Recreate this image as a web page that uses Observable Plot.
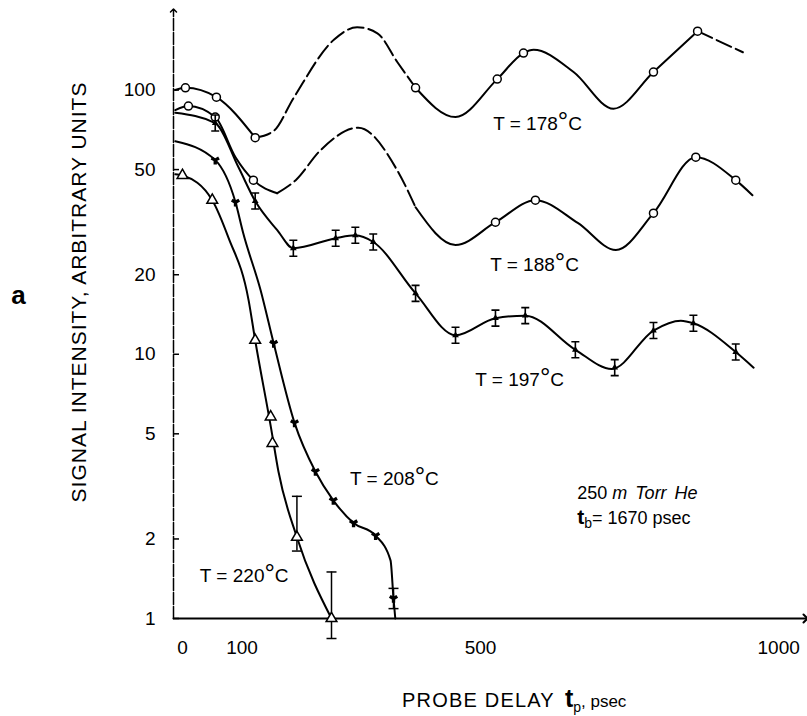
<!DOCTYPE html>
<html><head><meta charset="utf-8">
<script src="https://cdn.jsdelivr.net/npm/d3@7"></script>
<script src="https://cdn.jsdelivr.net/npm/@observablehq/plot@0.6"></script>
<style>
body{margin:0;background:#fff;}
#chart{width:807px;height:716px;}
</style></head><body><div id="chart"></div>
<script>
// ---- data ----
const xDomain = [-15, 1045];
const yDomain = [1, 200];
const xTicks = [0, 100, 500, 1000];
const yTicks = [1, 2, 5, 10, 20, 50, 100];

// curves
const t178 = [-12, 5, 57, 122, 153, 186, 254, 293, 327, 360, 391, 458, 528, 572, 589, 656, 723, 790, 864, 940];
const v178 = [100, 102, 94, 66, 70, 93, 155, 173, 164, 128, 102, 79, 110, 138, 142, 117, 85, 117, 167, 139];
const t188 = [-12, 10, 55, 89, 119, 159, 190, 231, 295, 360, 391, 458, 525, 592, 663, 727, 790, 861, 928, 956];
const v188 = [84, 87, 79, 55.7, 45.6, 40.7, 45.6, 59, 72, 49.8, 36, 25.9, 31.6, 38.3, 31.4, 24.8, 34.2, 55.7, 45.6, 40];
const t197 = [-12, 55, 94, 122, 159, 186, 257, 290, 320, 391, 458, 525, 575, 659, 720, 790, 836, 857, 928, 958];
const v197 = [82, 75, 51, 38, 29.5, 25.2, 27.5, 28.2, 26.6, 17, 11.8, 13.7, 14, 10.4, 8.8, 12.3, 13.4, 13.1, 10.2, 8.9];
const t208 = [-12, 55, 89, 102, 131, 153, 188, 223, 253, 287, 324, 349, 354, 357];
const v208 = [64, 54.3, 37.6, 28.7, 17.5, 11, 5.5, 3.6, 2.8, 2.3, 2.06, 1.66, 1.19, 1.0];
const t220 = [-12, 0, 50, 77, 111, 122, 149, 161, 192, 250];
const v220 = [48, 47.5, 38.3, 27.7, 16, 11.3, 5.2, 3.6, 2.03, 1.0];

// measured points
const m178t = [5, 57, 122, 391, 528, 572, 790, 864];
const m178v = [102, 94, 66, 102, 110, 138, 117, 167];
const m188t = [10, 55, 119, 525, 592, 790, 861, 928];
const m188v = [87, 79, 45.6, 31.6, 38.3, 34.2, 55.7, 45.6];
const m197t = [55, 122, 186, 257, 290, 320, 391, 458, 525, 575, 659, 725, 790, 857, 928];
const m197v = [75, 38, 25.2, 27.5, 28.2, 26.6, 17, 11.8, 13.7, 14, 10.4, 8.9, 12.3, 13.1, 10.2];
const m208t = [55, 89, 153, 188, 223, 253, 287, 324, 354];
const m208v = [54.3, 37.6, 11, 5.5, 3.6, 2.8, 2.3, 2.06, 1.19];
const m220t = [0, 50, 122, 148, 151, 192, 250];
const m220v = [47.5, 38.3, 11.3, 5.8, 4.6, 2.03, 1.0];

// error bars
const ebT = [192, 250, 354];
const ebLo = [1.8, 0.84, 1.09];
const ebHi = [2.9, 1.5, 1.3];

// labels
const labelText = ["T = 178", "T = 188", "T = 197", "T = 208", "T = 220"];
const labelT = [522, 517, 492, 282, 30];
const labelV = [74.3, 21.9, 8.04, 3.39, 1.455];
const noteT = 663;
const noteV = [2.975, 2.41];

// ---- helpers ----
const rows = (t, v) => t.map((d, i) => ({t: d, v: v[i]}));
function pieces(t, v, dashed) {
  const data = rows(t, v);
  const out = [];
  let start = -Infinity;
  for (const [a, b] of dashed) {
    out.push({data: data.filter(d => d.t >= start && d.t <= a), dash: false});
    out.push({data: data.filter(d => d.t >= a && d.t <= b), dash: true});
    start = b;
  }
  out.push({data: data.filter(d => d.t >= start), dash: false});
  return out.filter(p => p.data.length > 1);
}
const curveMarks = [];
for (const [t, v, dashed] of [
  [t178, v178, [[122, 391], [864, 940]]],
  [t188, v188, [[159, 391]]],
  [t197, v197, []],
  [t208, v208, []],
  [t220, v220, []]
]) {
  for (const p of pieces(t, v, dashed)) {
    curveMarks.push(Plot.line(p.data, {x: "t", y: "v", curve: "monotone-x", stroke: "black",
      strokeWidth: 2, strokeDasharray: p.dash ? "16,5" : null}));
  }
}

const ibar = {draw(ctx, size) { const r = Math.sqrt(size / Math.PI); const h = 2 * r, w = r;
  ctx.moveTo(0, -h); ctx.lineTo(0, h); ctx.moveTo(-w, -h); ctx.lineTo(w, -h); ctx.moveTo(-w, h); ctx.lineTo(w, h); }};
const cap = {draw(ctx, size) { const r = Math.sqrt(size / Math.PI);
  ctx.moveTo(-r, 0); ctx.lineTo(r, 0); }};

const eb = ebT.map((d, i) => ({t: d, lo: ebLo[i], hi: ebHi[i]}));

const font = "'Liberation Sans', Arial, Helvetica, sans-serif";

const plot = Plot.plot({
  width: 807, height: 716,
  marginLeft: 173, marginRight: 2, marginTop: 10, marginBottom: 98,
  style: {fontFamily: font, fontSize: "19px", background: "white", color: "black", overflow: "visible"},
  x: {domain: xDomain},
  y: {type: "log", domain: yDomain},
  marks: [
    Plot.axisX({ticks: xTicks, tickSize: 0, tickPadding: 22, label: null, tickFormat: d => String(d)}),
    Plot.axisY({ticks: yTicks, tickSize: -6, tickPadding: 24, label: null, tickFormat: d => String(d), strokeWidth: 1.5}),
    Plot.line([{t: xDomain[0], v: yDomain[0]}, {t: xDomain[0], v: yDomain[1]}],
      {x: "t", y: "v", stroke: "black", strokeWidth: 1.5, strokeDasharray: "12,2", markerEnd: "arrow"}),
    Plot.line([{t: xDomain[0], v: yDomain[0]}, {t: xDomain[1], v: yDomain[0]}],
      {x: "t", y: "v", stroke: "black", strokeWidth: 2, markerEnd: "arrow"}),
    ...curveMarks,
    Plot.ruleX(eb, {x: "t", y1: "lo", y2: "hi", stroke: "black", strokeWidth: 1.5}),
    Plot.dot(eb, {x: "t", y: "lo", symbol: cap, r: 5, stroke: "black", strokeWidth: 1.5, fill: "none"}),
    Plot.dot(eb, {x: "t", y: "hi", symbol: cap, r: 5, stroke: "black", strokeWidth: 1.5, fill: "none"}),
    Plot.dot(rows(m178t, m178v), {x: "t", y: "v", r: 4, stroke: "black", strokeWidth: 1.5, fill: "white"}),
    Plot.dot(rows(m188t, m188v), {x: "t", y: "v", r: 4, stroke: "black", strokeWidth: 1.5, fill: "white"}),
    Plot.dot(rows(m197t, m197v), {x: "t", y: "v", symbol: ibar, r: 4, stroke: "black", strokeWidth: 1.6, fill: "none"}),
    Plot.dot(rows(m197t, m197v), {x: "t", y: "v", symbol: "triangle", r: 2.5, fill: "black"}),
    Plot.dot(rows(m208t, m208v), {x: "t", y: "v", symbol: "wye", r: 3.5, fill: "black"}),
    Plot.dot(rows(m220t, m220v), {x: "t", y: "v", symbol: "triangle", r: 4, stroke: "black", strokeWidth: 1.5, fill: "white"})
  ]
});
document.getElementById("chart").appendChild(plot);

// ---- text annotations placed through the plot's scales ----
const svg = d3.select(plot);
const sx = plot.scale("x"), sy = plot.scale("y");
const g = svg.append("g").attr("font-family", font).attr("fill", "black").attr("text-anchor", "start");

labelText.forEach((txt, i) => {
  const t = g.append("text").attr("x", sx.apply(labelT[i])).attr("y", sy.apply(labelV[i]))
    .attr("dy", "0.36em").attr("font-size", 19);
  t.append("tspan").text(txt);
  t.append("tspan").attr("font-size", 26).text("°");
  t.append("tspan").text("C");
});

const n1 = g.append("text").attr("x", sx.apply(noteT)).attr("y", sy.apply(noteV[0])).attr("dy", "0.36em").attr("font-size", 18);
n1.append("tspan").text("250 ");
n1.append("tspan").attr("font-style", "italic").attr("word-spacing", 3).text("m Torr He");
const n2 = g.append("text").attr("x", sx.apply(noteT)).attr("y", sy.apply(noteV[1])).attr("dy", "0.36em").attr("font-size", 18);
n2.append("tspan").attr("font-size", 21).attr("font-weight", "bold").text("t");
n2.append("tspan").attr("font-size", 14).attr("dy", 4).text("b");
n2.append("tspan").attr("dy", -4).text("= 1670 psec");

// axis titles
const xl = g.append("text").attr("x", 402).attr("y", 707).attr("font-size", 20);
xl.append("tspan").attr("letter-spacing", 1.2).text("PROBE DELAY");
xl.append("tspan").attr("dx", 10).attr("font-size", 25).attr("font-weight", "bold").text("t");
xl.append("tspan").attr("font-size", 14).attr("dy", 5).text("p");
xl.append("tspan").attr("font-size", 17).attr("dy", -5).text(", psec");

g.append("text").attr("transform", "translate(78,292) rotate(-90)").attr("text-anchor", "middle")
  .attr("dy", "0.36em").attr("font-size", 21).attr("letter-spacing", 1)
  .text("SIGNAL INTENSITY, ARBITRARY UNITS");

g.append("text").attr("x", 18.5).attr("y", 295).attr("text-anchor", "middle").attr("dy", "0.36em")
  .attr("font-size", 26).attr("font-weight", "bold").text("a");
</script>
</body></html>
